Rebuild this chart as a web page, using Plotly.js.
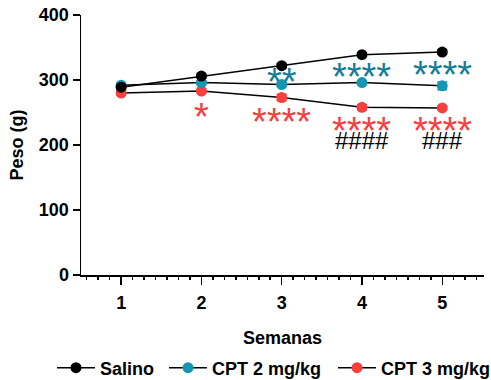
<!DOCTYPE html>
<html><head><meta charset="utf-8">
<script src="https://cdn.plot.ly/plotly-3.0.1.min.js"></script>
<style>html,body{margin:0;padding:0;background:#fff}#chart{width:491px;height:380px}</style>
</head><body><div id="chart"></div>
<script>
const weeks = [1, 2, 3, 4, 5];
const salino = [289, 306, 322, 339, 343];
const salinoErr = [3, 3, 3, 3, 3];
const cpt2 = [292, 296, 293, 296, 291];
const cpt2Err = [3, 3, 3, 3, 6];
const cpt3 = [280, 283, 273, 258, 257];
const cpt3Err = [3, 3, 5, 4, 3];
const seriesNames = ['Salino', 'CPT 2 mg/kg', 'CPT 3 mg/kg'];
const yTicks = [0, 100, 200, 300, 400];
// significance labels: [week, label, y-level]
const sigCpt2 = [[3, '**', 308], [4, '****', 315], [5, '****', 319]];
const sigCpt3 = [[2, '*', 254], [3, '****', 246], [4, '****', 232], [5, '****', 232]];
const sigHash = [[4, '####', 203], [5, '###', 203]];

const teal = '#1597b4', tealDark = '#137d98', red = '#f5403f';
function tr(name, y, err, col, leg) {
  return {x: weeks, y: y, name: name, type: 'scatter', mode: 'lines+markers',
    legend: leg,
    line: {color: '#000', width: 1.5},
    marker: {color: col, size: 11},
    error_y: {type: 'data', array: err, color: col, thickness: 1.5, width: 5},
    cliponaxis: false};
}
const data = [
  tr(seriesNames[2], cpt3, cpt3Err, red, 'legend3'),
  tr(seriesNames[1], cpt2, cpt2Err, teal, 'legend2'),
  tr(seriesNames[0], salino, salinoErr, '#000', 'legend')
];
const ann = [];
function addAnn(list, col, size, shift, h) {
  list.forEach(([w, t, y]) => {
    const a = {x: w, y: y, xref: 'x', yref: 'y', text: t, showarrow: false,
      font: {family: 'Liberation Sans, Arial', size: size, color: col}, yshift: shift};
    if (h) { a.height = h; a.valign = 'top'; }
    ann.push(a);
  });
}
addAnn(sigCpt2, tealDark, 38, 3, 22);
addAnn(sigCpt3, red, 38, 3, 22);
addAnn(sigHash, '#000', 24, 3);

function leg(px) {
  return {orientation: 'h', xref: 'container', yref: 'container', x: px / 491, y: 12 / 380,
    xanchor: 'left', yanchor: 'middle', bgcolor: 'rgba(0,0,0,0)', itemwidth: 38,
    font: {size: 18, weight: 'bold', family: 'Liberation Sans, Arial', color: '#000'}};
}

const layout = {
  width: 491, height: 380,
  margin: {l: 81, r: 7, t: 15, b: 105, autoexpand: false},
  paper_bgcolor: '#fff', plot_bgcolor: '#fff',
  font: {family: 'Liberation Sans, Arial', color: '#000'},
  showlegend: true,
  legend: leg(52), legend2: leg(164), legend3: leg(333),
  xaxis: {range: [0.5, 5.52], tickvals: weeks, ticktext: weeks.map(String), automargin: false,
    showline: true, linecolor: '#000', linewidth: 1.5, showgrid: false, zeroline: false,
    ticks: 'outside', ticklen: 8, tickwidth: 1.5, tickcolor: '#000', ticklabelstandoff: 3,
    tickfont: {size: 18, weight: 'bold'},
    minor: {dtick: 1/7, tick0: 1, ticks: 'outside', ticklen: 3, tickwidth: 1.5, tickcolor: '#000', showgrid: false},
    title: {text: 'Semanas', font: {size: 18, weight: 'bold'}, standoff: 19}},
  yaxis: {range: [0, 400], tickvals: yTicks, showline: true, linecolor: '#000', linewidth: 1.5, automargin: false,
    showgrid: false, zeroline: false, ticks: 'outside', ticklen: 7, tickwidth: 1.5, tickcolor: '#000',
    tickfont: {size: 18, weight: 'bold'},
    title: {text: 'Peso (g)', font: {size: 18, weight: 'bold'}, standoff: 10}},
  annotations: ann
};
Plotly.newPlot('chart', data, layout, {displayModeBar: false, staticPlot: true});
</script></body></html>
